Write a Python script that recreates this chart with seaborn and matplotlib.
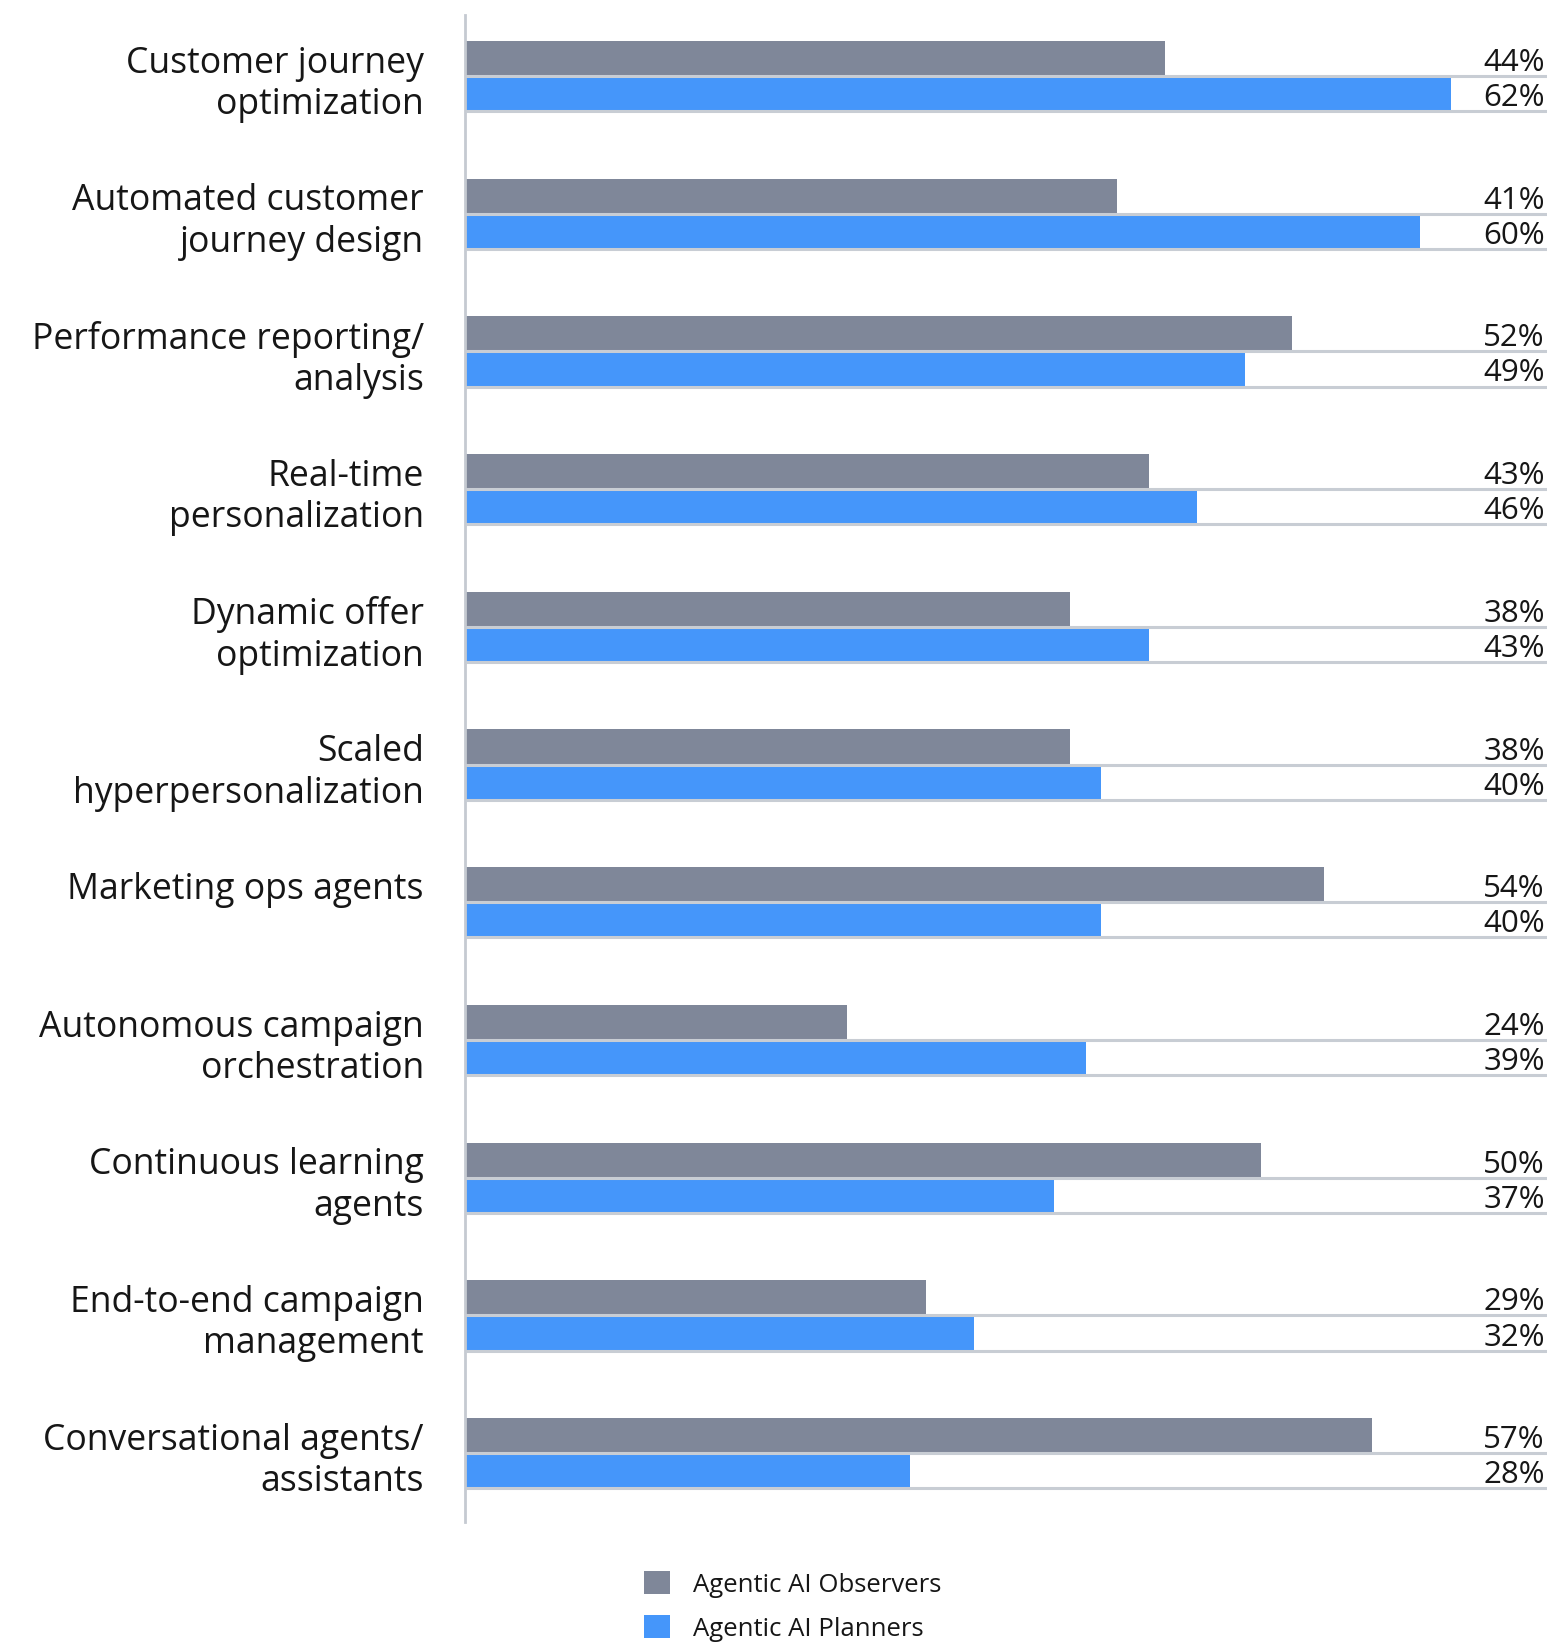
import matplotlib
matplotlib.use("Agg")
import matplotlib.pyplot as plt
import matplotlib.transforms as mtransforms
from matplotlib.patches import Patch
import pandas as pd
import seaborn as sns

# Use cases, top to bottom
categories = [
    "Customer journey\noptimization",
    "Automated customer\njourney design",
    "Performance reporting/\nanalysis",
    "Real-time\npersonalization",
    "Dynamic offer\noptimization",
    "Scaled\nhyperpersonalization",
    "Marketing ops agents",
    "Autonomous campaign\norchestration",
    "Continuous learning\nagents",
    "End-to-end campaign\nmanagement",
    "Conversational agents/\nassistants",
]
observers = [44, 41, 52, 43, 38, 38, 54, 24, 50, 29, 57]
planners = [62, 60, 49, 46, 43, 40, 40, 39, 37, 32, 28]
series_names = ["Agentic AI Observers", "Agentic AI Planners"]
series_colors = ["#7f8799", "#4596fa"]

n = len(categories)
df = pd.DataFrame({
    "category": categories * 2,
    "value": observers + planners,
    "group": [series_names[0]] * n + [series_names[1]] * n,
})

sns.set_theme(style="white")
plt.rcParams["font.family"] = ["Open Sans", "DejaVu Sans"]

track_color = "#c8cdd4"
text_color = "#161616"
xmax = 68

fig = plt.figure(figsize=(15.53, 16.49), dpi=100)
ax = fig.add_axes([0.2994, 0.0764, 0.6967, 0.9139])

sns.barplot(
    data=df, y="category", x="value", hue="group",
    order=categories, hue_order=series_names, palette=series_colors,
    orient="h", width=0.51, gap=0, saturation=1,
    edgecolor="none", linewidth=0, legend=False, ax=ax,
)

ax.set_xlim(0, xmax)
ax.set_ylim(n - 0.5, -0.443)

# Track line under every bar, plus the value at the right edge
right_edge = mtransforms.blended_transform_factory(ax.transAxes, ax.transData)
for patch, val in zip(ax.patches, observers + planners):
    y0 = patch.get_y()
    h = patch.get_height()
    ax.hlines(y0 + h, 0, xmax, color=track_color, lw=2.2, zorder=3)
    ax.text(0.998, y0 + h / 2, f"{val}%", transform=right_edge,
            ha="right", va="center_baseline", fontsize=22.5, color=text_color)

# Category labels, top-anchored so one-line labels sit on the first line
ax.set_yticks([])
ax.set_xticks([])
ax.set_xlabel("")
ax.set_ylabel("")
for i, cat in enumerate(categories):
    ax.text(-0.038, i - 0.228, cat, transform=right_edge, ha="right", va="top",
            fontsize=25.6, color=text_color, linespacing=1.2)

for side in ["top", "right", "bottom"]:
    ax.spines[side].set_visible(False)
ax.spines["left"].set_color("#c5cad1")
ax.spines["left"].set_linewidth(2)

handles = [Patch(facecolor=c, edgecolor="none", label=s)
           for s, c in zip(series_names, series_colors)]
fig.legend(
    handles=handles, loc="upper left", bbox_to_anchor=(0.4147, 0.0467),
    frameon=False, fontsize=18.5, handlelength=1.0, handleheight=1.0,
    handletextpad=0.9, labelspacing=0.68, borderpad=0, borderaxespad=0,
    labelcolor=text_color,
)

fig.savefig("out.png", dpi=100, facecolor="white")
